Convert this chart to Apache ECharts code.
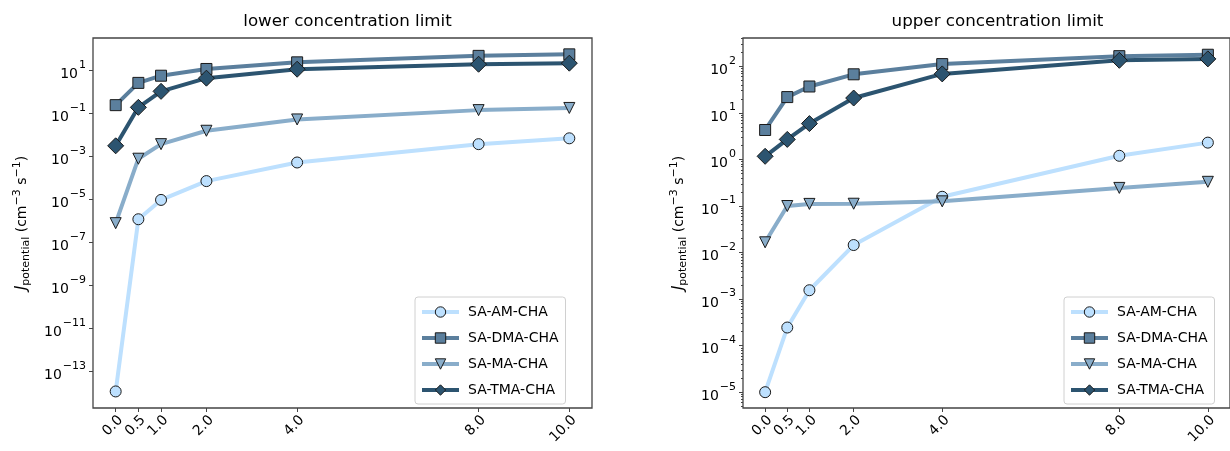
<!DOCTYPE html>
<html><head><meta charset="utf-8">
<script src="https://cdn.jsdelivr.net/npm/echarts@6/dist/echarts.min.js"></script>
<style>html,body{margin:0;padding:0;background:#fff}#c{width:1230px;height:451px}</style>
</head><body><div id="c"></div><script>
// ---- data ----
const concentrations = [0, 0.5, 1, 2, 4, 8, 10];
const xTickLabels = ['0.0', '0.5', '1.0', '2.0', '4.0', '8.0', '10.0'];
const seriesNames = ['SA-AM-CHA', 'SA-DMA-CHA', 'SA-MA-CHA', 'SA-TMA-CHA'];
const panelTitles = ['lower concentration limit', 'upper concentration limit'];

const lowerAM  = [1.2e-14, 1.2e-6, 9.5e-6, 7.1e-5, 5.2e-4, 3.7e-3, 6.9e-3];
const lowerDMA = [0.24, 2.6, 5.6, 11.5, 23.4, 46.8, 55];
const lowerMA  = [7.9e-7, 7.8e-4, 3.7e-3, 0.0155, 0.052, 0.141, 0.178];
const lowerTMA = [3.1e-3, 0.19, 1.05, 4.3, 11.2, 19.1, 21.4];

const upperAM  = [1.0e-5, 2.45e-4, 1.55e-3, 0.0145, 0.158, 1.2, 2.3];
const upperDMA = [4.3, 21.9, 37, 67.6, 112, 166, 178];
const upperMA  = [0.0166, 0.100, 0.111, 0.112, 0.126, 0.245, 0.331];
const upperTMA = [1.17, 2.7, 5.9, 20.9, 69, 135, 145];

const lowerYTickExps = [-13, -11, -9, -7, -5, -3, -1, 1];
const upperYTickExps = [-5, -4, -3, -2, -1, 0, 1, 2];

// ---- styling ----
const FONT = 'DejaVu Sans';
const colors = ['#bde0fe', '#5b7f9d', '#89adca', '#2c5470'];
const symbols = ['circle', 'rect', 'triangle', 'diamond'];
const symbolSizes = [11, 11, 11, 16];
const symbolRotates = [0, 0, 180, 0];
const AXIS_COLOR = '#444';

const lowerSets = [lowerAM, lowerDMA, lowerMA, lowerTMA];
const upperSets = [upperAM, upperDMA, upperMA, upperTMA];

const grids = [
  {left: 93, top: 38, width: 499, height: 370},
  {left: 743, top: 38, width: 499, height: 370}
];
const yRanges = [[-14.69, 2.50], [-5.34, 2.61]];

function minorTicks(lo, hi) {
  const out = [];
  for (let n = Math.floor(lo) - 1; n <= Math.ceil(hi); n++) {
    for (let k = 2; k <= 9; k++) {
      const v = n + Math.log10(k);
      if (v >= lo && v <= hi) out.push(v);
    }
  }
  return out;
}

function expLabel(v) {
  const e = Math.round(v);
  return '{b|10}{s|' + (e < 0 ? '\u2212' : '') + Math.abs(e) + '}';
}
const expRich = {
  b: {fontSize: 14, fontFamily: FONT, color: '#000', lineHeight: 22, verticalAlign: 'bottom'},
  s: {fontSize: 11, fontFamily: FONT, color: '#000', lineHeight: 14, verticalAlign: 'top', padding: [0, 0, 0, 1]}
};
const nameRich = {
  j: {fontSize: 15, fontFamily: FONT, fontStyle: 'italic', color: '#000', lineHeight: 20, verticalAlign: 'middle'},
  sub: {fontSize: 11, fontFamily: FONT, color: '#000', lineHeight: 12, verticalAlign: 'bottom'},
  n: {fontSize: 14, fontFamily: FONT, color: '#000', lineHeight: 20, verticalAlign: 'middle'},
  sup: {fontSize: 11, fontFamily: FONT, color: '#000', lineHeight: 12, verticalAlign: 'top'}
};
const yName = '{j|J}{sub|potential}{n| (cm}{sup|\u22123}{n| s}{sup|\u22121}{n|)}';

const xAxes = grids.map((g, i) => ({
  type: 'value', gridIndex: i, min: -0.5, max: 10.5, position: 'bottom',
  axisLine: {show: false, onZero: false},
  splitLine: {show: false},
  axisTick: {show: true, length: 4, lineStyle: {color: AXIS_COLOR, width: 1}, customValues: concentrations},
  axisLabel: {
    customValues: concentrations, rotate: 45, margin: 5, verticalAlign: 'top',
    fontSize: 14, fontFamily: FONT, color: '#000',
    formatter: v => xTickLabels[concentrations.indexOf(v)]
  }
}));

function yAxisMajor(i, ticks, gap) {
  return {
    type: 'value', gridIndex: i, min: yRanges[i][0], max: yRanges[i][1], position: 'left',
    axisLine: {show: false, onZero: false}, splitLine: {show: false},
    axisTick: {length: 4, lineStyle: {color: AXIS_COLOR}, customValues: ticks},
    axisLabel: {customValues: ticks, formatter: expLabel, rich: expRich, margin: 7},
    name: yName, nameLocation: 'middle', nameRotate: 90, nameGap: gap,
    nameTextStyle: {rich: nameRich, fontFamily: FONT, fontSize: 14}
  };
}

const yAxes = [
  yAxisMajor(0, lowerYTickExps, 61),
  yAxisMajor(1, upperYTickExps, 54),
  {
    type: 'value', gridIndex: 1, min: yRanges[1][0], max: yRanges[1][1], position: 'left',
    axisLine: {show: false, onZero: false}, splitLine: {show: false},
    axisTick: {length: 2, lineStyle: {color: AXIS_COLOR}, customValues: minorTicks(yRanges[1][0], yRanges[1][1])},
    axisLabel: {show: false}
  }
];

const series = [];
[lowerSets, upperSets].forEach((sets, p) => {
  sets.forEach((vals, k) => {
    series.push({
      type: 'line', name: seriesNames[k],
      xAxisIndex: p, yAxisIndex: p,
      data: concentrations.map((x, i) => [x, Math.log10(vals[i])]),
      symbol: symbols[k], symbolSize: symbolSizes[k], symbolRotate: symbolRotates[k],
      showAllSymbol: true,
      lineStyle: {color: colors[k], width: 4},
      itemStyle: {color: colors[k], borderColor: '#1a1a1a', borderWidth: 1},
      emphasis: {disabled: true},
      z: 2 + k
    });
  });
});

const legendCommon = {
  orient: 'vertical', top: 297, data: seriesNames,
  itemWidth: 37, itemHeight: 13, itemGap: 12,
  padding: [8, 7, 7, 5],
  backgroundColor: '#fff', borderColor: '#d0d0d0', borderWidth: 1, borderRadius: 3,
  lineStyle: {width: 4},
  itemStyle: {borderWidth: 1, borderColor: '#1a1a1a'},
  textStyle: {fontSize: 14, fontFamily: FONT, color: '#000', padding: [0, 0, 0, 4]},
  selectedMode: false
};

const option = {
  animation: false,
  backgroundColor: '#fff',
  title: panelTitles.map((t, i) => ({
    text: t, left: grids[i].left + grids[i].width / 2, textAlign: 'center', top: 8,
    textStyle: {fontSize: 16.7, fontFamily: FONT, fontWeight: 'normal', color: '#000'}
  })),
  grid: grids.map(g => Object.assign({show: true, borderColor: AXIS_COLOR, borderWidth: 1.3, backgroundColor: 'transparent'}, g)),
  legend: [
    Object.assign({left: 415}, legendCommon),
    Object.assign({left: 1064}, legendCommon)
  ],
  xAxis: xAxes,
  yAxis: yAxes,
  series: series
};

const chart = echarts.init(document.getElementById('c'), null, {renderer: 'canvas'});
chart.setOption(option);
</script></body></html>
